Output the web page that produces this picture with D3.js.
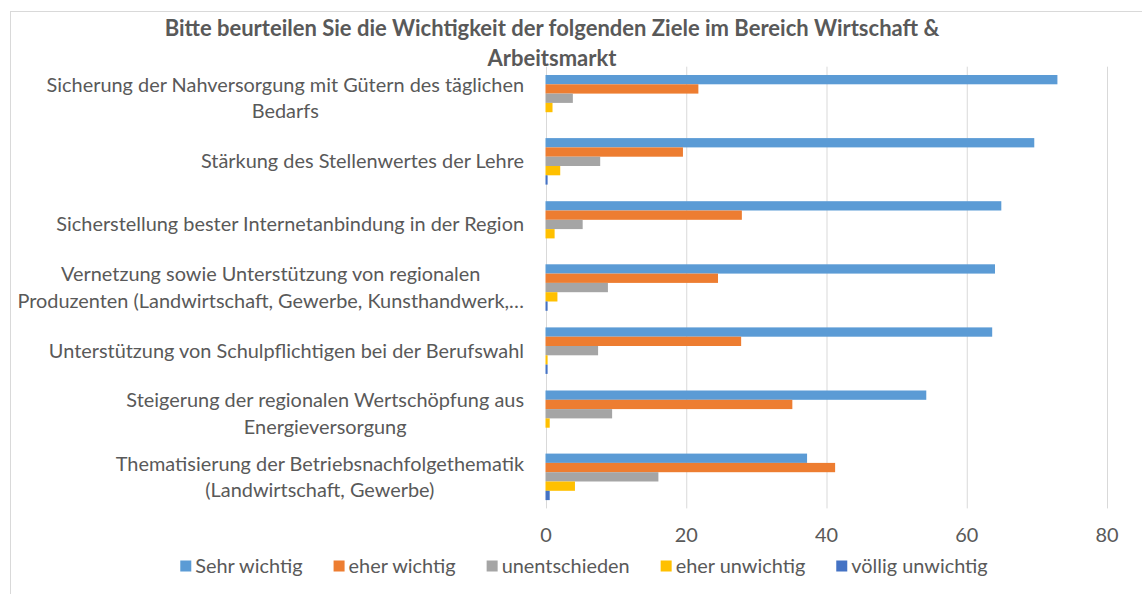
<!DOCTYPE html>
<meta charset="utf-8">
<style>

body {
  margin: 0;
  background: #fff;
}

svg {
  font-family: Lato, sans-serif;
  fill: #595959;
}

.grid line {
  stroke: #d9d9d9;
  stroke-width: 1;
}

.grid .domain {
  display: none;
}

</style>
<svg width="1142" height="594"></svg>
<script src="https://d3js.org/d3.v7.min.js"></script>
<script>

var categories = [
  "Sicherung der Nahversorgung mit Gütern des täglichen\nBedarfs",
  "Stärkung des Stellenwertes der Lehre",
  "Sicherstellung bester Internetanbindung in der Region",
  "Vernetzung sowie Unterstützung von regionalen\nProduzenten (Landwirtschaft, Gewerbe, Kunsthandwerk,…",
  "Unterstützung von Schulpflichtigen bei der Berufswahl",
  "Steigerung der regionalen Wertschöpfung aus\nEnergieversorgung",
  "Thematisierung der Betriebsnachfolgethematik\n(Landwirtschaft, Gewerbe)"
];

var seriesNames = ["Sehr wichtig", "eher wichtig", "unentschieden", "eher unwichtig", "völlig unwichtig"];

var sehrWichtig      = [73.0, 69.7, 65.0, 64.1, 63.7, 54.3, 37.3];
var eherWichtig      = [21.8, 19.6, 28.0, 24.6, 27.9, 35.2, 41.3];
var unentschieden    = [3.9, 7.8, 5.3, 8.9, 7.5, 9.5, 16.1];
var eherUnwichtig    = [1.0, 2.1, 1.3, 1.7, 0.3, 0.6, 4.2];
var voelligUnwichtig = [0, 0.3, 0, 0.3, 0.3, 0, 0.6];

var xTicks = [0, 20, 40, 60, 80];

var titleLines = ["Bitte beurteilen Sie die Wichtigkeit der folgenden Ziele im Bereich Wirtschaft &", "Arbeitsmarkt"];

var values = [sehrWichtig, eherWichtig, unentschieden, eherUnwichtig, voelligUnwichtig];

var svg = d3.select("svg"),
    margin = {top: 66.7, right: 35, bottom: 85.6, left: 545.5},
    width = +svg.attr("width") - margin.left - margin.right,
    height = +svg.attr("height") - margin.top - margin.bottom;

var color = d3.scaleOrdinal()
    .domain(seriesNames)
    .range(["#5b9bd5", "#ed7d31", "#a5a5a5", "#ffc000", "#4472c4"]);

var x = d3.scaleLinear()
    .domain([0, 80])
    .range([0, width - 0.5]);

var y0 = d3.scaleBand()
    .domain(d3.range(categories.length))
    .range([0, height])
    .paddingInner(0.263)
    .paddingOuter(0.1315);

var y1 = d3.scaleBand()
    .domain(d3.range(seriesNames.length))
    .range([0, y0.bandwidth()]);

// chart frame (left and top edges visible, rest runs off the page)
svg.append("rect")
    .attr("x", 10.5)
    .attr("y", 11.5)
    .attr("width", 1200)
    .attr("height", 700)
    .attr("fill", "none")
    .attr("stroke", "#d9d9d9");

svg.append("text")
    .attr("text-anchor", "middle")
    .style("font-weight", "bold")
    .style("font-size", "22px")
  .selectAll("tspan")
  .data(titleLines)
  .enter().append("tspan")
    .attr("x", 552)
    .attr("y", function(d, i) { return 36 + i * 30; })
    .text(function(d) { return d; });

var g = svg.append("g")
    .attr("transform", "translate(" + margin.left + "," + margin.top + ")");

g.append("g")
    .attr("class", "grid")
    .call(d3.axisBottom(x).tickValues(xTicks).tickSize(height).tickFormat(""))
    .selectAll("line")
    .attr("transform", "translate(0.5,0)");

g.append("g")
  .selectAll("g")
  .data(categories)
  .enter().append("g")
    .attr("transform", function(d, i) { return "translate(0," + y0(i) + ")"; })
  .selectAll("rect")
  .data(function(d, i) { return values.map(function(s, j) { return {series: j, value: s[i]}; }); })
  .enter().append("rect")
    .attr("x", x(0))
    .attr("y", function(d) { return y1(d.series); })
    .attr("height", y1.bandwidth())
    .attr("width", function(d) { return x(d.value) - x(0); })
    .attr("fill", function(d) { return color(seriesNames[d.series]); });

// x tick labels
g.append("g")
  .selectAll("text")
  .data(xTicks)
  .enter().append("text")
    .attr("x", function(d) { return x(d) + 0.5; })
    .attr("y", height + 33.5)
    .attr("text-anchor", "middle")
    .style("font-size", "19.9px")
    .text(function(d) { return d; });

// category labels, wrapped lines centred on each other, block right-aligned
var labelRight = 524 - margin.left;

var label = g.append("g")
  .selectAll("text")
  .data(categories)
  .enter().append("text")
    .attr("text-anchor", "middle")
    .style("font-size", "19.9px")
    .attr("transform", function(d, i) { return "translate(0," + (y0(i) + y0.bandwidth() / 2) + ")"; });

label.selectAll("tspan")
  .data(function(d) { return d.split("\n"); })
  .enter().append("tspan")
    .attr("x", 0)
    .attr("y", function(d, i, nodes) { return (i - (nodes.length - 1) / 2) * 26.5; })
    .attr("dy", "0.35em")
    .text(function(d) { return d; });

label.each(function(d, i) {
  var w = this.getBBox().width;
  d3.select(this).attr("transform", "translate(" + (labelRight - w / 2) + "," + (y0(i) + y0.bandwidth() / 2) + ")");
});

// legend
var legend = svg.append("g");

var item = legend.selectAll("g")
  .data(seriesNames)
  .enter().append("g");

item.append("rect")
    .attr("width", 11)
    .attr("height", 11)
    .attr("y", -5.5)
    .attr("fill", function(d) { return color(d); });

item.append("text")
    .attr("x", 15)
    .attr("dy", "0.35em")
    .style("font-size", "19.9px")
    .text(function(d) { return d; });

var offset = 0;
item.each(function() {
  var w = this.getBBox().width;
  d3.select(this).attr("transform", "translate(" + offset + ",0)");
  offset += w + 31;
});
offset -= 31;

legend.attr("transform", "translate(" + (584 - offset / 2) + ",566)");

</script>
